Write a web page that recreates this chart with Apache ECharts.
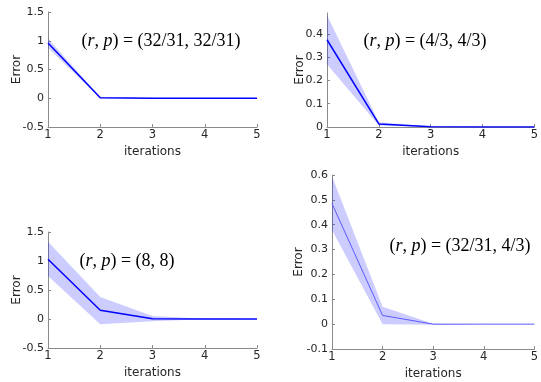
<!DOCTYPE html>
<html>
<head>
<meta charset="utf-8">
<script src="https://cdn.jsdelivr.net/npm/echarts@6/dist/echarts.min.js"></script>
<style>html,body{margin:0;padding:0;background:#fff}#c{width:541px;height:382px}</style>
</head>
<body>
<div id="c"></div>
<script>
const iterations = ['1', '2', '3', '4', '5'];

const p1Mean  = [0.96, 0.01, 0.002, 0.001, 0.0];
const p1Upper = [1.04, 0.02, 0.004, 0.002, 0.001];
const p1Lower = [0.88, 0.0, 0.0, 0.0, 0.0];

const p2Mean  = [0.375, 0.013, 0.001, 0.0, 0.0];
const p2Upper = [0.48, 0.02, 0.003, 0.001, 0.0];
const p2Lower = [0.27, 0.006, 0.0, 0.0, 0.0];

const p3Mean  = [1.03, 0.15, 0.005, 0.001, 0.0];
const p3Upper = [1.33, 0.38, 0.05, 0.005, 0.001];
const p3Lower = [0.74, -0.09, -0.04, -0.003, -0.001];

const p4Mean  = [0.485, 0.035, 0.0, 0.0, 0.0];
const p4Upper = [0.595, 0.07, 0.002, 0.0, 0.0];
const p4Lower = [0.379, 0.0, -0.002, 0.0, 0.0];

const titles = ['32/31, 32/31', '4/3, 4/3', '8, 8', '32/31, 4/3'];

const panels = [
  { mean: p1Mean, upper: p1Upper, lower: p1Lower, ymin: -0.5, ymax: 1.5, step: 0.5, lw: 1.5, lc: '#0000ff',
    grid: { left: 48, top: 12, width: 209, height: 115 }, nameGap: 25, title: titles[0], tx: 161, ty: 41 },
  { mean: p2Mean, upper: p2Upper, lower: p2Lower, ymin: 0, ymax: 0.49, step: 0.1, lw: 1.5, lc: '#0000ff',
    grid: { left: 327, top: 13, width: 212, height: 114 }, nameGap: 21, title: titles[1], tx: 425, ty: 41 },
  { mean: p3Mean, upper: p3Upper, lower: p3Lower, ymin: -0.5, ymax: 1.5, step: 0.5, lw: 1.5, lc: '#0000ff',
    grid: { left: 48, top: 232, width: 209, height: 116 }, nameGap: 25, title: titles[2], tx: 127, ty: 261 },
  { mean: p4Mean, upper: p4Upper, lower: p4Lower, ymin: -0.1, ymax: 0.6, step: 0.1, lw: 1, lc: '#5a5aff',
    grid: { left: 332, top: 175, width: 207, height: 174 }, nameGap: 27, title: titles[3], tx: 460, ty: 246 }
];

const axisColor = '#8a8a8a';
const textColor = '#262626';
const grids = [], xAxes = [], yAxes = [], series = [], graphics = [];

panels.forEach((p, i) => {
  grids.push(Object.assign({ containLabel: false }, p.grid));
  xAxes.push({
    type: 'category', gridIndex: i, data: iterations, boundaryGap: false,
    name: 'iterations', nameLocation: 'middle', nameGap: 19, nameMoveOverlap: false,
    nameTextStyle: { fontFamily: 'DejaVu Sans', fontSize: 12, color: textColor },
    axisLine: { onZero: false, lineStyle: { color: axisColor, width: 1 } },
    axisTick: { inside: true, length: 3, alignWithLabel: true, lineStyle: { color: axisColor } },
    axisLabel: { fontFamily: 'DejaVu Sans', fontSize: 11.5, color: textColor, margin: 2 },
    splitLine: { show: false }
  });
  yAxes.push({
    type: 'value', gridIndex: i, min: p.ymin, max: p.ymax, interval: p.step,
    name: 'Error', nameLocation: 'middle', nameGap: p.nameGap, nameRotate: 90, nameMoveOverlap: false,
    nameTextStyle: { fontFamily: 'DejaVu Sans', fontSize: 12, color: textColor },
    axisLine: { show: true, onZero: false, lineStyle: { color: axisColor, width: 1 } },
    axisTick: { show: true, inside: true, length: 3, lineStyle: { color: axisColor } },
    axisLabel: { fontFamily: 'DejaVu Sans', fontSize: 11, color: textColor, margin: 4, showMaxLabel: p.ymax !== 0.49 },
    splitLine: { show: false }
  });
  const diff = p.upper.map((u, k) => +(u - p.lower[k]).toFixed(6));
  series.push({
    type: 'line', xAxisIndex: i, yAxisIndex: i, data: p.lower, stack: 'band' + i, stackStrategy: 'all',
    symbol: 'none', lineStyle: { opacity: 0 }, silent: true
  });
  series.push({
    type: 'line', xAxisIndex: i, yAxisIndex: i, data: diff, stack: 'band' + i, stackStrategy: 'all',
    symbol: 'none', lineStyle: { opacity: 0 }, areaStyle: { color: 'rgba(0,0,255,0.2)', opacity: 1 }, silent: true
  });
  series.push({
    type: 'line', xAxisIndex: i, yAxisIndex: i, data: p.mean,
    symbol: 'none', lineStyle: { color: p.lc, width: p.lw }, z: 5
  });
  graphics.push({
    type: 'text', x: p.tx, y: p.ty, z: 100,
    style: {
      text: '{n|(}{i|r}{n|, }{i|p}{n|) = (' + p.title + ')}',
      align: 'center', verticalAlign: 'middle',
      rich: {
        n: { fontFamily: 'Liberation Serif', fontSize: 18, fill: '#000', color: '#000' },
        i: { fontFamily: 'Liberation Serif', fontStyle: 'italic', fontSize: 18, fill: '#000', color: '#000' }
      }
    }
  });
});

const chart = echarts.init(document.getElementById('c'), null, { renderer: 'canvas' });
chart.setOption({
  animation: false,
  backgroundColor: '#fff',
  grid: grids, xAxis: xAxes, yAxis: yAxes, series: series, graphic: graphics
});
</script>
</body>
</html>
